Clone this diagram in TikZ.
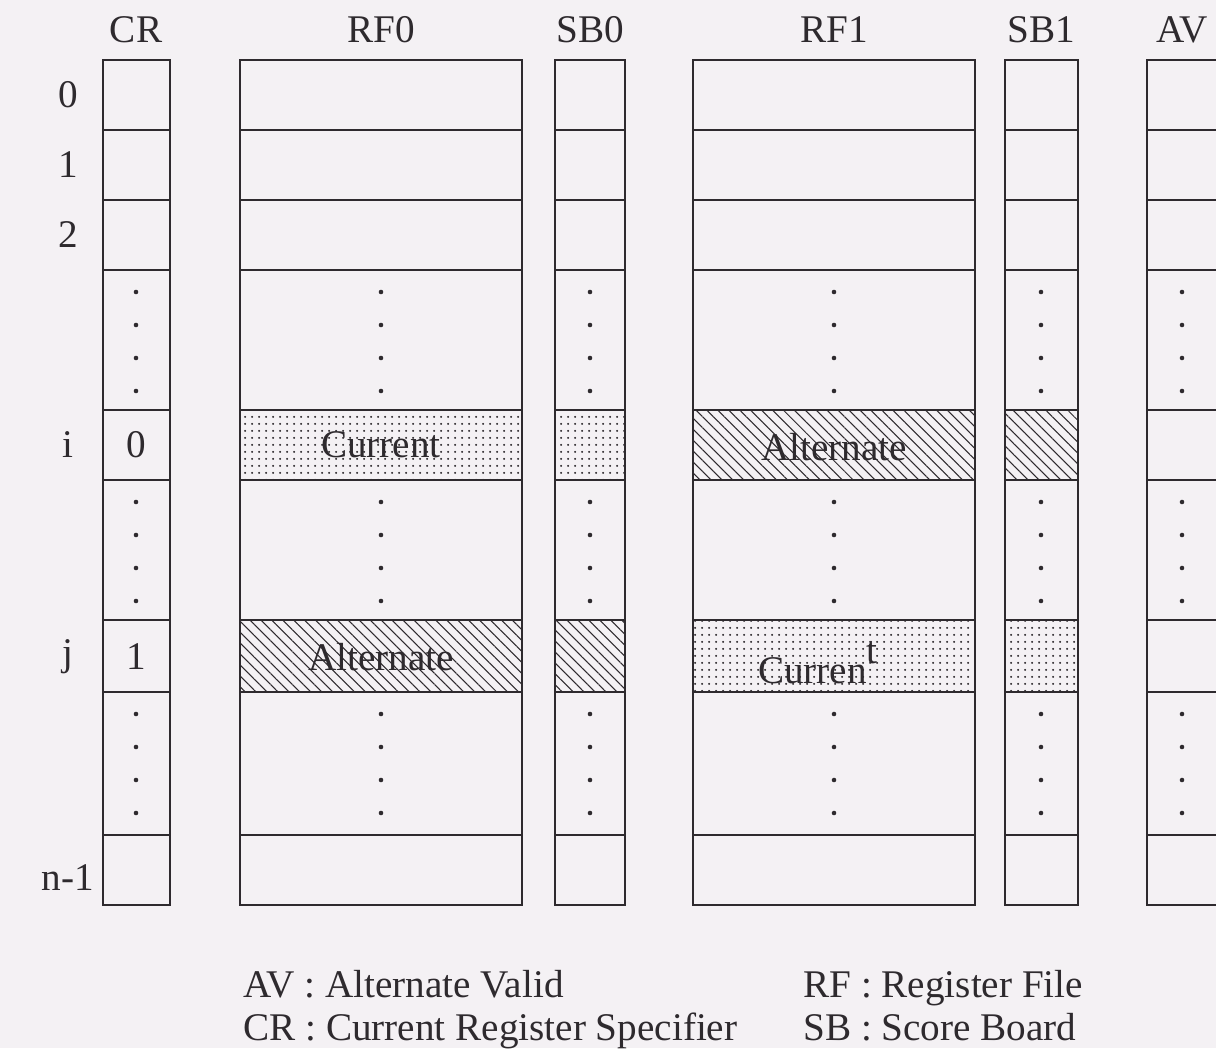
\documentclass[tikz,border=0pt]{standalone}
\usepackage{fontspec}
\setmainfont{Liberation Serif}
\usetikzlibrary{patterns.meta}
\definecolor{paper}{HTML}{F4F1F4}
\definecolor{ink}{HTML}{2E2A2E}
\tikzset{
	cell/.style = {draw = ink, line width = 1pt},
	curfill/.style = {pattern = {Dots[distance = 4pt, radius = 0.7pt]}, pattern color = ink},
	altfill/.style = {pattern = {Lines[angle = -45, distance = 4.4pt, line width = 0.6pt]}, pattern color = ink},
	lbl/.style = {text = ink, font = \fontsize{22.3}{26}\selectfont, inner sep = 0pt}
}
\begin{document}
\begin{tikzpicture}[x = 0.02cm, y = -0.02cm]
	\fill [paper] (0,0) rectangle (1216,1048);
	\useasboundingbox (0,0) rectangle (1216,1048);
	\clip (0,0) rectangle (1216,1048);
	\fill [curfill] (240,410) rectangle (522,480);
	\fill [curfill] (555,410) rectangle (625,480);
	\fill [altfill] (240,620) rectangle (522,692);
	\fill [altfill] (555,620) rectangle (625,692);
	\fill [altfill] (693,410) rectangle (975,480);
	\fill [altfill] (1005,410) rectangle (1078,480);
	\fill [curfill] (693,620) rectangle (975,692);
	\fill [curfill] (1005,620) rectangle (1078,692);
	\foreach \l/\r/\c/\name in {103/170/136/CR, 240/522/381/RF0, 555/625/590/SB0, 693/975/834/RF1, 1005/1078/1041/SB1, 1147/1240/1182/AV}{
	\draw [cell] (\l,60) rectangle (\r,905);
	\foreach \y in {130,200,270,410,480,620,692,835}{
	\draw [cell] (\l,\y) -- (\r,\y);
	}
	\foreach \t in {270,480,692}{
	\foreach \d in {22,55,88,121}{
	\fill [ink] (\c,\t+\d) circle (1.3pt);
	}
	}
	\node [lbl] (\name) at (\c,30) {\name};
	}
	\foreach \y/\txt/\nm in {95/0/rowzero, 165/1/rowone, 235/2/rowtwo, 445/i/rowi, 657/j/rowj, 878/n-1/rowlast}{
	\node [lbl] (\nm) at (68,\y) {\txt};
	}
	\node [lbl] (crzero) at (136,445) {0};
	\node [lbl] (crone) at (136,657) {1};
	\node [lbl] (curzero) at (381,445) {Current};
	\node [lbl] (altzero) at (381,657) {Alternate};
	\node [lbl] (altone) at (834,447) {Alternate};
	\node [lbl] (curone) at (818,663) {Curren\raisebox{1.1ex}{t}};
	\node [lbl, anchor = base west] (keyav) at (243,997) {AV : Alternate Valid};
	\node [lbl, anchor = base west] (keycr) at (243,1040) {CR : Current Register Specifier};
	\node [lbl, anchor = base west] (keyrf) at (803,997) {RF : Register File};
	\node [lbl, anchor = base west] (keysb) at (803,1040) {SB : Score Board};
\end{tikzpicture}
\end{document}
